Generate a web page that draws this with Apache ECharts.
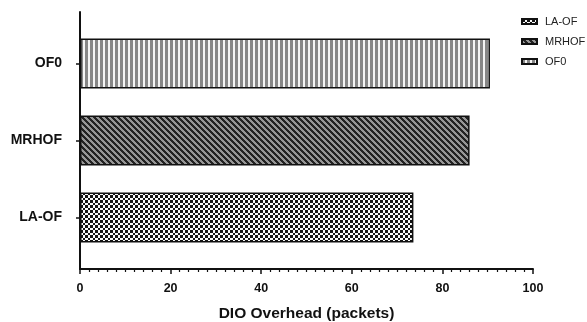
<!DOCTYPE html>
<html>
<head>
<meta charset="utf-8">
<script src="https://cdn.jsdelivr.net/npm/echarts@6/dist/echarts.min.js"></script>
<style>
  html, body { margin: 0; padding: 0; background: #fff; }
  #chart { width: 587px; height: 322px; }
</style>
</head>
<body>
<div id="chart"></div>
<script>
// Objective functions, bottom to top
const categories = ['LA-OF', 'MRHOF', 'OF0'];
// DIO overhead per objective function (packets)
const overheadValues = [73.6, 86.0, 90.5];
// X axis ticks
const xTicks = [0, 20, 40, 60, 80, 100];

const FONT = '"Liberation Sans", Arial, Helvetica, sans-serif';

// Fill patterns drawn pixel by pixel into small tiles
function makeTile(size, pick) {
  const c = document.createElement('canvas');
  c.width = size; c.height = size;
  const ctx = c.getContext('2d');
  const img = ctx.createImageData(size, size);
  for (let y = 0; y < size; y++) {
    for (let x = 0; x < size; x++) {
      const v = pick(x, y);
      const i = (y * size + x) * 4;
      img.data[i] = v; img.data[i + 1] = v; img.data[i + 2] = v; img.data[i + 3] = 255;
    }
  }
  ctx.putImageData(img, 0, 0);
  return c;
}

// checkerboard
const checkTile = makeTile(10, (x, y) => {
  const cx = Math.floor(x / 2.5), cy = Math.floor(y / 2.5);
  return (cx + cy) % 2 === 0 ? 20 : 250;
});
// diagonal hatching "\\\\"
const diagTile = makeTile(12, (x, y) => {
  const d = ((x - y) % 6 + 6) % 6;
  return d < 3 ? 35 : 150;
});
// vertical stripes
const stripeTile = makeTile(10, (x, y) => {
  return (x % 5) < 3 ? 135 : 245;
});

const patterns = [checkTile, diagTile, stripeTile];

const series = categories.map((name, k) => ({
  name: name,
  type: 'bar',
  stack: 'all',
  xAxisIndex: 0,
  yAxisIndex: 0,
  barWidth: 50,
  data: categories.map((c, j) => (j === k ? overheadValues[j] : null)),
  itemStyle: {
    color: { image: patterns[k], repeat: 'repeat' },
    borderColor: '#111',
    borderWidth: 1.5
  },
  emphasis: { disabled: true }
}));

const chart = echarts.init(document.getElementById('chart'), null, { renderer: 'canvas' });
chart.setOption({
  animation: false,
  backgroundColor: '#fff',
  legend: {
    orient: 'vertical',
    left: 521,
    top: 16,
    padding: 0,
    itemWidth: 15,
    itemHeight: 5,
    itemGap: 9,
    icon: 'rect',
    data: categories,
    textStyle: { fontFamily: FONT, fontSize: 11, color: '#222', padding: [0, 0, 0, 3] }
  },
  grid: [
    { left: 80, right: 54, top: 25, height: 231, outerBoundsMode: 'none' },
    { left: 80, right: 54, top: 12, bottom: 53, outerBoundsMode: 'none' }
  ],
  xAxis: [
    { gridIndex: 0, type: 'value', min: 0, max: 100, show: false },
    {
      gridIndex: 1,
      type: 'value',
      min: xTicks[0],
      max: xTicks[xTicks.length - 1],
      interval: xTicks[1] - xTicks[0],
      name: 'DIO Overhead (packets)',
      nameLocation: 'middle',
      nameGap: 37,
      nameTextStyle: { fontFamily: FONT, fontSize: 15.5, fontWeight: 'bold', color: '#111' },
      axisLine: { show: true, lineStyle: { color: '#111', width: 2 } },
      axisTick: { show: true, length: 5, lineStyle: { color: '#111', width: 1.5 } },
      minorTick: { show: true, splitNumber: 10, length: 3, lineStyle: { color: '#111', width: 1.2 } },
      axisLabel: { fontFamily: FONT, fontSize: 12.5, fontWeight: 'bold', color: '#111', margin: 13 },
      splitLine: { show: false }
    }
  ],
  yAxis: [
    {
      gridIndex: 0,
      type: 'category',
      data: categories,
      axisLine: { show: false },
      axisTick: { show: true, alignWithLabel: true, length: 4, lineStyle: { color: '#111', width: 1.5 } },
      axisLabel: { fontFamily: FONT, fontSize: 14, fontWeight: 'bold', color: '#111', margin: 18 },
      splitLine: { show: false }
    },
    {
      gridIndex: 1,
      type: 'value',
      min: 0,
      max: 1,
      axisLine: { show: true, lineStyle: { color: '#111', width: 2 } },
      axisTick: { show: false },
      axisLabel: { show: false },
      splitLine: { show: false }
    }
  ],
  series: series
});
</script>
</body>
</html>
